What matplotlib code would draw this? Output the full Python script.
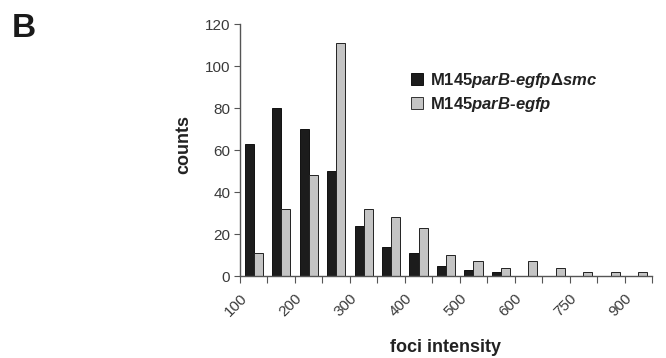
import matplotlib
matplotlib.use("Agg")
import matplotlib.pyplot as plt
import matplotlib.transforms as mtransforms
from matplotlib.lines import Line2D
import numpy as np

plt.rcParams['font.family'] = ['Liberation Sans', 'DejaVu Sans']
plt.rcParams['mathtext.fontset'] = 'custom'
plt.rcParams['mathtext.bfit'] = 'Liberation Sans:italic:bold'
plt.rcParams['mathtext.rm'] = 'Liberation Sans:bold'

# counts per foci-intensity bin (15 bins)
delta_smc = [63, 80, 70, 50, 24, 14, 11, 5, 3, 2, 0, 0, 0, 0, 0]
wild_type = [11, 32, 48, 111, 32, 28, 23, 10, 7, 4, 7, 4, 2, 2, 2]
tick_labels = ["100", "200", "300", "400", "500", "600", "750", "900"]
series_names = [r"M145$\mathbfit{parB}$-$\mathbfit{egfp}$Δ$\mathbfit{smc}$",
                r"M145$\mathbfit{parB}$-$\mathbfit{egfp}$"]

black = "#1c1c1c"
grey = "#c4c4c4"
axis_col = "#555555"
text_col = "#3a3a3a"

fig = plt.figure(figsize=(6.66, 3.58), dpi=100)
ax = fig.add_axes([240 / 666, 1 - 276 / 358, 412 / 666, 252 / 358])

x = np.arange(len(delta_smc))
w = 0.33
ax.bar(x - w / 2, delta_smc, w, color=black, edgecolor="#111111", linewidth=0.7)
ax.bar(x + w / 2, wild_type, w, color=grey, edgecolor="#222222", linewidth=0.7)

ax.set_xlim(-0.5, len(x) - 0.5)
ax.set_ylim(0, 120)
ax.set_yticks(np.arange(0, 121, 20))

bounds = np.arange(len(x) + 1) - 0.5
ax.set_xticks(bounds)
labels = [""] * len(bounds)
for i, t in enumerate(tick_labels):
    labels[2 * i] = t
ax.set_xticklabels(labels, rotation=45, ha="right", rotation_mode="anchor")
# nudge the rotated labels left so their ends sit on the tick marks
shift = mtransforms.ScaledTranslation(-6 / 100, 0, fig.dpi_scale_trans)
for lab in ax.get_xticklabels():
    lab.set_transform(lab.get_transform() + shift)

for s in ["top", "right"]:
    ax.spines[s].set_visible(False)
for s in ["left", "bottom"]:
    ax.spines[s].set_color(axis_col)
    ax.spines[s].set_linewidth(1.0)
ax.tick_params(axis="y", direction="out", length=4, color=axis_col,
               labelsize=11, labelcolor=text_col, pad=3)
ax.tick_params(axis="x", direction="out", length=5, color=axis_col,
               labelsize=11, labelcolor=text_col, pad=6)

ax.set_ylabel("counts", fontsize=13, fontweight="bold", color="#222222",
              labelpad=9, y=0.52)
ax.set_xlabel("foci intensity", fontsize=13, fontweight="bold", color="#222222",
              labelpad=14)

handles = [
    Line2D([], [], linestyle="none", marker="s", markersize=9,
           markerfacecolor=black, markeredgecolor="#111111", markeredgewidth=0.7),
    Line2D([], [], linestyle="none", marker="s", markersize=9,
           markerfacecolor=grey, markeredgecolor="#333333", markeredgewidth=0.7),
]
leg = ax.legend(handles, series_names, loc="upper left",
                bbox_to_anchor=(395 / 666, 1 - 56 / 358),
                bbox_transform=fig.transFigure, frameon=False,
                handlelength=0.8, handletextpad=0.4, labelspacing=0.3,
                prop={"size": 12, "weight": "bold"})
for t in leg.get_texts():
    t.set_color("#222222")

fig.text(12 / 666, 1 - 37 / 358, "B", fontsize=24, fontweight="bold", color="#1a1a1a")

fig.savefig("out.png", dpi=100)
